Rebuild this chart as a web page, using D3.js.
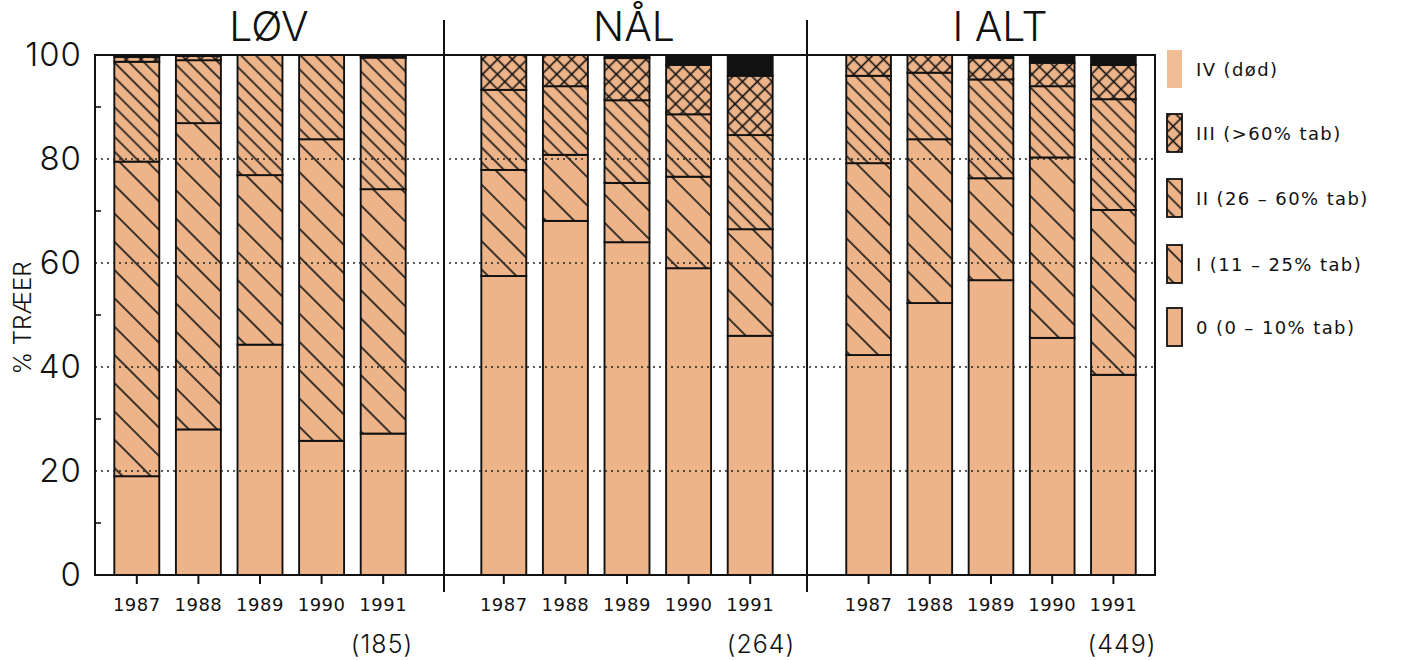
<!DOCTYPE html>
<html>
<head>
<meta charset="utf-8">
<script src="https://cdn.jsdelivr.net/npm/d3@7"></script>
<style>
  body { margin: 0; background: #fff; }
  text { font-family: Inter, Lato, "DejaVu Sans", sans-serif; fill: #111; }
</style>
</head>
<body>
<script>
const years = ['1987', '1988', '1989', '1990', '1991'];
const groups = ['LØV', 'NÅL', 'I ALT'];
const counts = ['(185)', '(264)', '(449)'];
const classes = ['0', 'I', 'II', 'III', 'IV'];
const legendLabels = ['IV (død)', 'III (>60% tab)', 'II (26 – 60% tab)', 'I (11 – 25% tab)', '0 (0 – 10% tab)'];
const yTicks = [0, 20, 40, 60, 80, 100];

// % of trees per class (0, I, II, III, IV), one row per year
const lovShares = [
    [19.0, 60.5, 19.2, 0.9, 0.4],
    [28.0, 58.9, 12.1, 0.8, 0.2],
    [44.3, 32.6, 23.1, 0.0, 0.0],
    [25.8, 58.0, 16.2, 0.0, 0.0],
    [27.2, 47.0, 25.3, 0.3, 0.2]
];
const nalShares = [
    [57.5, 20.4, 15.4, 6.7, 0.0],
    [68.1, 12.7, 13.2, 6.0, 0.0],
    [64.0, 11.4, 15.9, 8.1, 0.6],
    [59.0, 17.6, 12.0, 9.5, 1.9],
    [46.0, 20.5, 18.1, 11.4, 4.0]
];
const altShares = [
    [42.3, 36.9, 16.8, 4.0, 0.0],
    [52.3, 31.5, 12.8, 3.4, 0.0],
    [56.7, 19.6, 19.0, 4.1, 0.6],
    [45.6, 34.7, 13.7, 4.5, 1.5],
    [38.5, 31.7, 21.3, 6.6, 1.9]
];
const shareSets = [lovShares, nalShares, altShares];

const tan = '#eeb489';
const plot = {left: 95, right: 1155, top: 55, bottom: 575};
const groupRanges = [[106, 414], [473, 781], [838, 1144]];
const dividers = [444, 807];
const titleX = [269, 634, 1000];
const countX = [382, 761, 1122];

const svg = d3.select('body')
    .append('svg')
    .attr('width', 1402)
    .attr('height', 660);

// hatch patterns
const defs = svg.append('defs');
const hatch = (id, step, cross) => {
    const p = defs.append('pattern')
        .attr('id', id)
        .attr('patternUnits', 'userSpaceOnUse')
        .attr('width', step).attr('height', step)
        .attr('patternTransform', `rotate(${cross ? 45 : -45})`);
    p.append('rect').attr('width', step).attr('height', step).attr('fill', tan);
    p.append('line')
        .attr('x1', step / 2).attr('x2', step / 2)
        .attr('y1', 0).attr('y2', step)
        .attr('stroke', '#111').attr('stroke-width', 1.6);
    if (cross) {
        p.append('line')
            .attr('y1', step / 2).attr('y2', step / 2)
            .attr('x1', 0).attr('x2', step)
            .attr('stroke', '#111').attr('stroke-width', 1.6);
    }
};
hatch('hatchI', 20, false);
hatch('hatchII', 10.5, false);
hatch('cross', 10.5, true);

const fills = {'0': tan, 'I': 'url(#hatchI)', 'II': 'url(#hatchII)', 'III': 'url(#cross)', 'IV': '#111'};

const y = d3.scaleLinear().domain([0, 100]).range([plot.bottom, plot.top]);

const stack = d3.stack().keys(classes);

groups.forEach((name, gi) => {
    const x = d3.scaleBand()
        .domain(years)
        .range(groupRanges[gi])
        .paddingInner(0.27)
        .paddingOuter(0.135);

    const rows = years.map((yr, i) => {
        const r = {year: yr};
        classes.forEach((c, k) => r[c] = shareSets[gi][i][k]);
        return r;
    });

    const graph = svg.append('g');

    graph.selectAll('g.layer')
        .data(stack(rows))
        .join('g')
        .attr('class', 'layer')
        .attr('fill', d => fills[d.key])
        .selectAll('rect')
        .data(d => d.filter(s => s[1] - s[0] > 0))
        .join('rect')
        .attr('x', d => x(d.data.year))
        .attr('y', d => y(d[1]))
        .attr('width', x.bandwidth())
        .attr('height', d => y(d[0]) - y(d[1]))
        .attr('stroke', '#111')
        .attr('stroke-width', 1.9);

    // year axis
    const axis = svg.append('g')
        .attr('transform', `translate(0, ${plot.bottom})`)
        .call(d3.axisBottom(x).tickSize(9).tickPadding(14));
    axis.select('.domain').remove();
    axis.selectAll('line').attr('stroke', '#111').attr('stroke-width', 2);
    axis.selectAll('text')
        .style('font-family', '"DejaVu Sans", sans-serif')
        .style('font-size', '18px')
        .attr('letter-spacing', 0.5);

    svg.append('text')
        .attr('x', titleX[gi]).attr('y', 41)
        .attr('text-anchor', 'middle')
        .attr('font-size', 41)
        .attr('font-weight', 300)
        .text(name);

    svg.append('text')
        .attr('x', countX[gi]).attr('y', 653)
        .attr('text-anchor', 'middle')
        .attr('font-size', 25)
        .attr('font-weight', 300)
        .attr('letter-spacing', 1)
        .text(counts[gi]);
});

// dotted grid lines over the bars
svg.append('g')
    .selectAll('line')
    .data(yTicks.filter(t => t > 0 && t < 100))
    .join('line')
    .attr('x1', plot.left).attr('x2', plot.right)
    .attr('y1', d => y(d)).attr('y2', d => y(d))
    .attr('stroke', '#222')
    .attr('stroke-width', 1.6)
    .attr('stroke-dasharray', '2,4');

// frame
svg.append('rect')
    .attr('x', plot.left).attr('y', plot.top)
    .attr('width', plot.right - plot.left)
    .attr('height', plot.bottom - plot.top)
    .attr('fill', 'none')
    .attr('stroke', '#111')
    .attr('stroke-width', 2);

svg.selectAll('line.divider')
    .data(dividers)
    .join('line')
    .attr('class', 'divider')
    .attr('x1', d => d).attr('x2', d => d)
    .attr('y1', 20).attr('y2', 592)
    .attr('stroke', '#111')
    .attr('stroke-width', 2);

// y axis
const yAxis = svg.append('g')
    .attr('transform', `translate(${plot.left}, 0)`)
    .call(d3.axisLeft(y).tickValues(yTicks).tickSize(0).tickPadding(13));
yAxis.select('.domain').remove();
yAxis.selectAll('text')
    .attr('font-size', 33)
    .attr('font-weight', 300)
    .attr('letter-spacing', 1);

svg.append('g')
    .selectAll('line')
    .data([10, 30, 50, 70, 90])
    .join('line')
    .attr('x1', plot.left).attr('x2', plot.left + 6)
    .attr('y1', d => y(d)).attr('y2', d => y(d))
    .attr('stroke', '#111')
    .attr('stroke-width', 1.6);

svg.append('text')
    .attr('transform', 'translate(31, 318) rotate(-90)')
    .attr('text-anchor', 'middle')
    .attr('font-size', 24)
    .attr('font-weight', 300)
    .text('% TRÆER');

// legend
const legend = svg.append('g');
const legendFills = ['#f0bd96', fills.III, fills.II, fills.I, fills['0']];
const legendY = [50, 114, 179, 245, 308];

legend.selectAll('rect')
    .data(legendLabels)
    .join('rect')
    .attr('x', 1167)
    .attr('y', (d, i) => legendY[i])
    .attr('width', 15)
    .attr('height', 38)
    .attr('fill', (d, i) => legendFills[i])
    .attr('stroke', (d, i) => i === 0 ? 'none' : '#111')
    .attr('stroke-width', 1.8);

legend.selectAll('text')
    .data(legendLabels)
    .join('text')
    .attr('x', 1196)
    .attr('y', (d, i) => legendY[i] + 26)
    .attr('font-size', 18)
    .attr('letter-spacing', 1.4)
    .style('font-family', '"DejaVu Sans", sans-serif')
    .text(d => d);
</script>
</body>
</html>
